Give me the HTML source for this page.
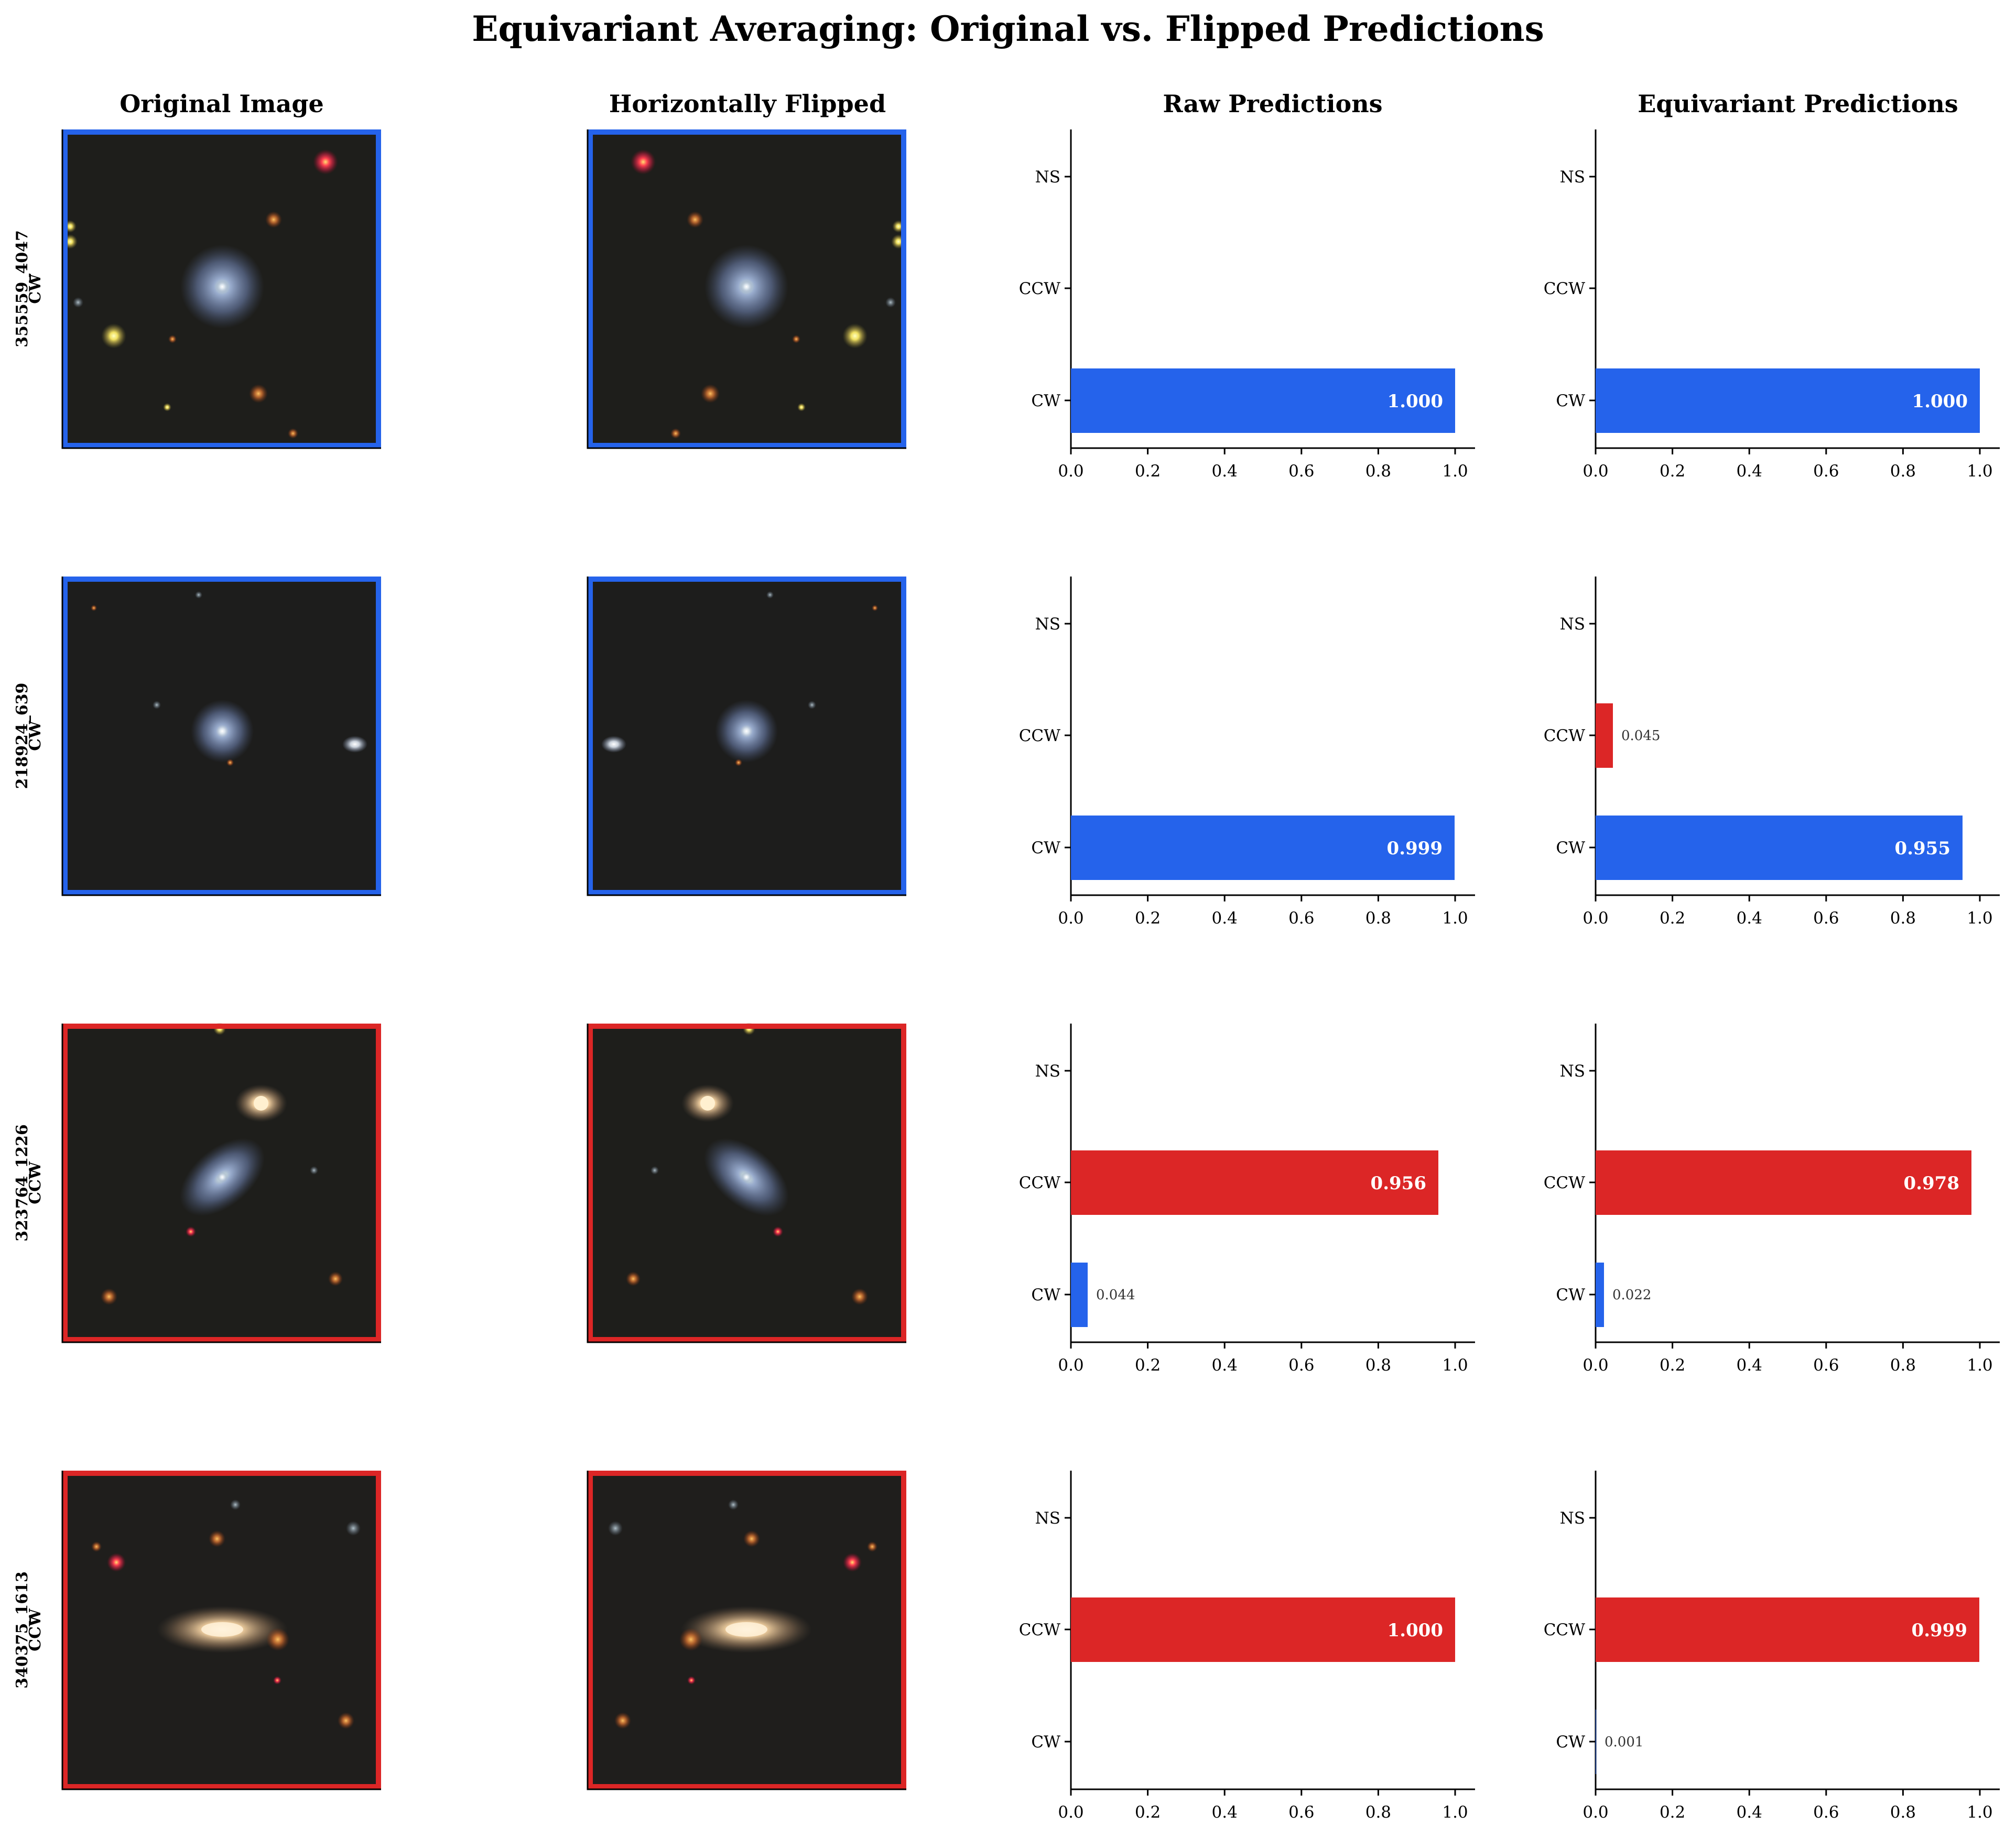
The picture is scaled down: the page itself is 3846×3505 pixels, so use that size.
<!DOCTYPE html>
<html><head><meta charset="utf-8"><style>
html,body{margin:0;padding:0;background:#fff;}
svg{display:block;}
text{font-family:"DejaVu Serif","Liberation Serif",serif;}
</style></head><body>
<svg width="3846" height="3505" viewBox="0 0 3846 3505" xmlns="http://www.w3.org/2000/svg">
<defs>
<radialGradient id="gb"><stop offset="0" stop-color="#dfeee0"/><stop offset="0.2" stop-color="#9fb3d6" stop-opacity="0.95"/><stop offset="0.6" stop-color="#6e82b0" stop-opacity="0.6"/><stop offset="1" stop-color="#4a5a80" stop-opacity="0"/></radialGradient>
<radialGradient id="gw"><stop offset="0" stop-color="#ffffff"/><stop offset="0.35" stop-color="#dde6f0" stop-opacity="0.9"/><stop offset="1" stop-color="#8899bb" stop-opacity="0"/></radialGradient>
<radialGradient id="gr"><stop offset="0" stop-color="#ffe070"/><stop offset="0.3" stop-color="#ff4050"/><stop offset="0.65" stop-color="#c02040" stop-opacity="0.6"/><stop offset="1" stop-color="#801020" stop-opacity="0"/></radialGradient>
<radialGradient id="gy"><stop offset="0" stop-color="#ffffc0"/><stop offset="0.3" stop-color="#f0e060"/><stop offset="0.7" stop-color="#a09040" stop-opacity="0.5"/><stop offset="1" stop-color="#606020" stop-opacity="0"/></radialGradient>
<radialGradient id="go"><stop offset="0" stop-color="#ffc060"/><stop offset="0.4" stop-color="#d07030" stop-opacity="0.8"/><stop offset="1" stop-color="#803010" stop-opacity="0"/></radialGradient>
<radialGradient id="gc"><stop offset="0" stop-color="#fff4e0"/><stop offset="0.3" stop-color="#f0cfa0"/><stop offset="0.7" stop-color="#a08060" stop-opacity="0.5"/><stop offset="1" stop-color="#605040" stop-opacity="0"/></radialGradient>
<radialGradient id="gs"><stop offset="0" stop-color="#b0c0c8"/><stop offset="1" stop-color="#607080" stop-opacity="0"/></radialGradient>

<g id="im1">
<rect width="608" height="608" fill="#1e1e1b"/>
<circle cx="305" cy="300" r="80" fill="url(#gb)"/>
<circle cx="305" cy="300" r="12" fill="url(#gw)"/>
<circle cx="502" cy="62" r="24" fill="url(#gr)"/>
<circle cx="98" cy="394" r="24" fill="url(#gy)"/>
<circle cx="403" cy="172" r="16" fill="url(#go)"/>
<circle cx="374" cy="504" r="18" fill="url(#go)"/>
<circle cx="15" cy="214" r="14" fill="url(#gy)"/>
<circle cx="15" cy="185" r="12" fill="url(#gy)"/>
<circle cx="30" cy="330" r="10" fill="url(#gs)"/>
<circle cx="210" cy="400" r="8" fill="url(#go)"/>
<circle cx="440" cy="580" r="10" fill="url(#go)"/>
<circle cx="200" cy="530" r="8" fill="url(#gy)"/>
</g>
<g id="im2">
<rect width="608" height="608" fill="#1d1d1c"/>
<circle cx="305" cy="295" r="60" fill="url(#gb)"/>
<circle cx="305" cy="295" r="14" fill="url(#gw)"/>
<ellipse cx="558" cy="320" rx="24" ry="16" fill="url(#gw)"/>
<circle cx="180" cy="245" r="8" fill="url(#gs)"/>
<circle cx="260" cy="35" r="7" fill="url(#gs)"/>
<circle cx="320" cy="355" r="7" fill="url(#go)"/>
<circle cx="60" cy="60" r="6" fill="url(#go)"/>
</g>
<g id="im3">
<rect width="608" height="608" fill="#1e1e1b"/>
<ellipse cx="305" cy="293" rx="95" ry="55" transform="rotate(-40 305 293)" fill="url(#gb)"/>
<circle cx="305" cy="293" r="10" fill="url(#gw)"/>
<ellipse cx="379" cy="152" rx="50" ry="36" fill="url(#gc)"/>
<circle cx="379" cy="152" r="14" fill="#fff0d0"/>
<circle cx="89" cy="521" r="16" fill="url(#go)"/>
<circle cx="521" cy="487" r="14" fill="url(#go)"/>
<circle cx="245" cy="397" r="10" fill="url(#gr)"/>
<circle cx="300" cy="10" r="12" fill="url(#gy)"/>
<circle cx="480" cy="280" r="8" fill="url(#gs)"/>
</g>
<g id="im4">
<rect width="608" height="608" fill="#1f1e1c"/>
<ellipse cx="305" cy="303" rx="125" ry="45" fill="url(#gc)"/>
<ellipse cx="305" cy="303" rx="40" ry="14" fill="#fff2dc" opacity="0.8"/>
<circle cx="411" cy="322" r="22" fill="url(#go)"/>
<circle cx="103" cy="175" r="18" fill="url(#gr)"/>
<circle cx="295" cy="130" r="16" fill="url(#go)"/>
<circle cx="541" cy="477" r="16" fill="url(#go)"/>
<circle cx="555" cy="110" r="14" fill="url(#gs)"/>
<circle cx="330" cy="65" r="10" fill="url(#gs)"/>
<circle cx="65" cy="145" r="10" fill="url(#go)"/>
<circle cx="410" cy="400" r="8" fill="url(#gr)"/>
</g>
</defs>

<text x="1923" y="78" text-anchor="middle" font-size="66" font-weight="bold">Equivariant Averaging: Original vs. Flipped Predictions</text>
<g font-size="46" font-weight="bold" text-anchor="middle">
<text x="423" y="214">Original Image</text>
<text x="1426" y="214">Horizontally Flipped</text>
<text x="2428" y="214">Raw Predictions</text>
<text x="3430" y="214">Equivariant Predictions</text>
</g>

<g transform="translate(119,247)"><use href="#im1"/><rect x="5" y="5" width="598" height="598" fill="none" stroke="#2563eb" stroke-width="10"/></g>
<g transform="translate(1121,247)"><g transform="translate(608,0) scale(-1,1)"><use href="#im1"/></g><rect x="5" y="5" width="598" height="598" fill="none" stroke="#2563eb" stroke-width="10"/></g>
<g transform="translate(119,1100)"><use href="#im2"/><rect x="5" y="5" width="598" height="598" fill="none" stroke="#2563eb" stroke-width="10"/></g>
<g transform="translate(1121,1100)"><g transform="translate(608,0) scale(-1,1)"><use href="#im2"/></g><rect x="5" y="5" width="598" height="598" fill="none" stroke="#2563eb" stroke-width="10"/></g>
<g transform="translate(119,1953)"><use href="#im3"/><rect x="5" y="5" width="598" height="598" fill="none" stroke="#dc2626" stroke-width="10"/></g>
<g transform="translate(1121,1953)"><g transform="translate(608,0) scale(-1,1)"><use href="#im3"/></g><rect x="5" y="5" width="598" height="598" fill="none" stroke="#dc2626" stroke-width="10"/></g>
<g transform="translate(119,2806)"><use href="#im4"/><rect x="5" y="5" width="598" height="598" fill="none" stroke="#dc2626" stroke-width="10"/></g>
<g transform="translate(1121,2806)"><g transform="translate(608,0) scale(-1,1)"><use href="#im4"/></g><rect x="5" y="5" width="598" height="598" fill="none" stroke="#dc2626" stroke-width="10"/></g>
<g stroke="#000" stroke-width="3" fill="none">
<path d="M119,247V855H727M1121,247V855H1729"/>
<path d="M119,1100V1708H727M1121,1100V1708H1729"/>
<path d="M119,1953V2561H727M1121,1953V2561H1729"/>
<path d="M119,2806V3414H727M1121,2806V3414H1729"/>
</g>

<g font-size="30" font-weight="bold" text-anchor="middle">
<text transform="translate(52,551) rotate(-90)">355559_4047</text>
<text transform="translate(77,551) rotate(-90)">CW</text>
<text transform="translate(52,1404) rotate(-90)">218924_639</text>
<text transform="translate(77,1404) rotate(-90)">CW</text>
<text transform="translate(52,2257) rotate(-90)">323764_1226</text>
<text transform="translate(77,2257) rotate(-90)">CCW</text>
<text transform="translate(52,3110) rotate(-90)">340375_1613</text>
<text transform="translate(77,3110) rotate(-90)">CCW</text>
</g>

<defs>
<g id="ax">
<path d="M0,0V608H771" fill="none" stroke="#000" stroke-width="3"/>
<path d="M0,608v12M146.6,608v12M293.2,608v12M439.8,608v12M586.4,608v12M733,608v12M0,517h-12M0,303h-12M0,90h-12" stroke="#000" stroke-width="3"/>
<g font-size="31" text-anchor="middle">
<text x="0" y="662">0.0</text><text x="146.6" y="662">0.2</text><text x="293.2" y="662">0.4</text><text x="439.8" y="662">0.6</text><text x="586.4" y="662">0.8</text><text x="733" y="662">1.0</text>
</g>
<g font-size="31" text-anchor="end">
<text x="-20" y="528">CW</text><text x="-20" y="314">CCW</text><text x="-20" y="101">NS</text>
</g>
</g>
</defs>

<g transform="translate(2043,247)"><use href="#ax"/>
<rect x="0" y="456" width="733" height="123" fill="#2563eb"/>
<text x="710" y="530" font-size="34" font-weight="bold" fill="#fff" text-anchor="end">1.000</text></g>
<g transform="translate(3044,247)"><use href="#ax"/>
<rect x="0" y="456" width="733" height="123" fill="#2563eb"/>
<text x="710" y="530" font-size="34" font-weight="bold" fill="#fff" text-anchor="end">1.000</text></g>

<g transform="translate(2043,1100)"><use href="#ax"/>
<rect x="0" y="456" width="732" height="123" fill="#2563eb"/>
<text x="709" y="530" font-size="34" font-weight="bold" fill="#fff" text-anchor="end">0.999</text></g>
<g transform="translate(3044,1100)"><use href="#ax"/>
<rect x="0" y="456" width="700" height="123" fill="#2563eb"/>
<text x="677" y="530" font-size="34" font-weight="bold" fill="#fff" text-anchor="end">0.955</text>
<rect x="0" y="242" width="33" height="123" fill="#dc2626"/>
<text x="49" y="312" font-size="26" fill="#333">0.045</text></g>

<g transform="translate(2043,1953)"><use href="#ax"/>
<rect x="0" y="242" width="701" height="123" fill="#dc2626"/>
<text x="678" y="316" font-size="34" font-weight="bold" fill="#fff" text-anchor="end">0.956</text>
<rect x="0" y="456" width="32" height="123" fill="#2563eb"/>
<text x="48" y="526" font-size="26" fill="#333">0.044</text></g>
<g transform="translate(3044,1953)"><use href="#ax"/>
<rect x="0" y="242" width="717" height="123" fill="#dc2626"/>
<text x="694" y="316" font-size="34" font-weight="bold" fill="#fff" text-anchor="end">0.978</text>
<rect x="0" y="456" width="16" height="123" fill="#2563eb"/>
<text x="32" y="526" font-size="26" fill="#333">0.022</text></g>

<g transform="translate(2043,2806)"><use href="#ax"/>
<rect x="0" y="242" width="733" height="123" fill="#dc2626"/>
<text x="710" y="316" font-size="34" font-weight="bold" fill="#fff" text-anchor="end">1.000</text></g>
<g transform="translate(3044,2806)"><use href="#ax"/>
<rect x="0" y="242" width="732" height="123" fill="#dc2626"/>
<text x="709" y="316" font-size="34" font-weight="bold" fill="#fff" text-anchor="end">0.999</text>
<rect x="0" y="456" width="1" height="123" fill="#2563eb"/>
<text x="17" y="526" font-size="26" fill="#333">0.001</text></g>
</svg>
</body></html>
